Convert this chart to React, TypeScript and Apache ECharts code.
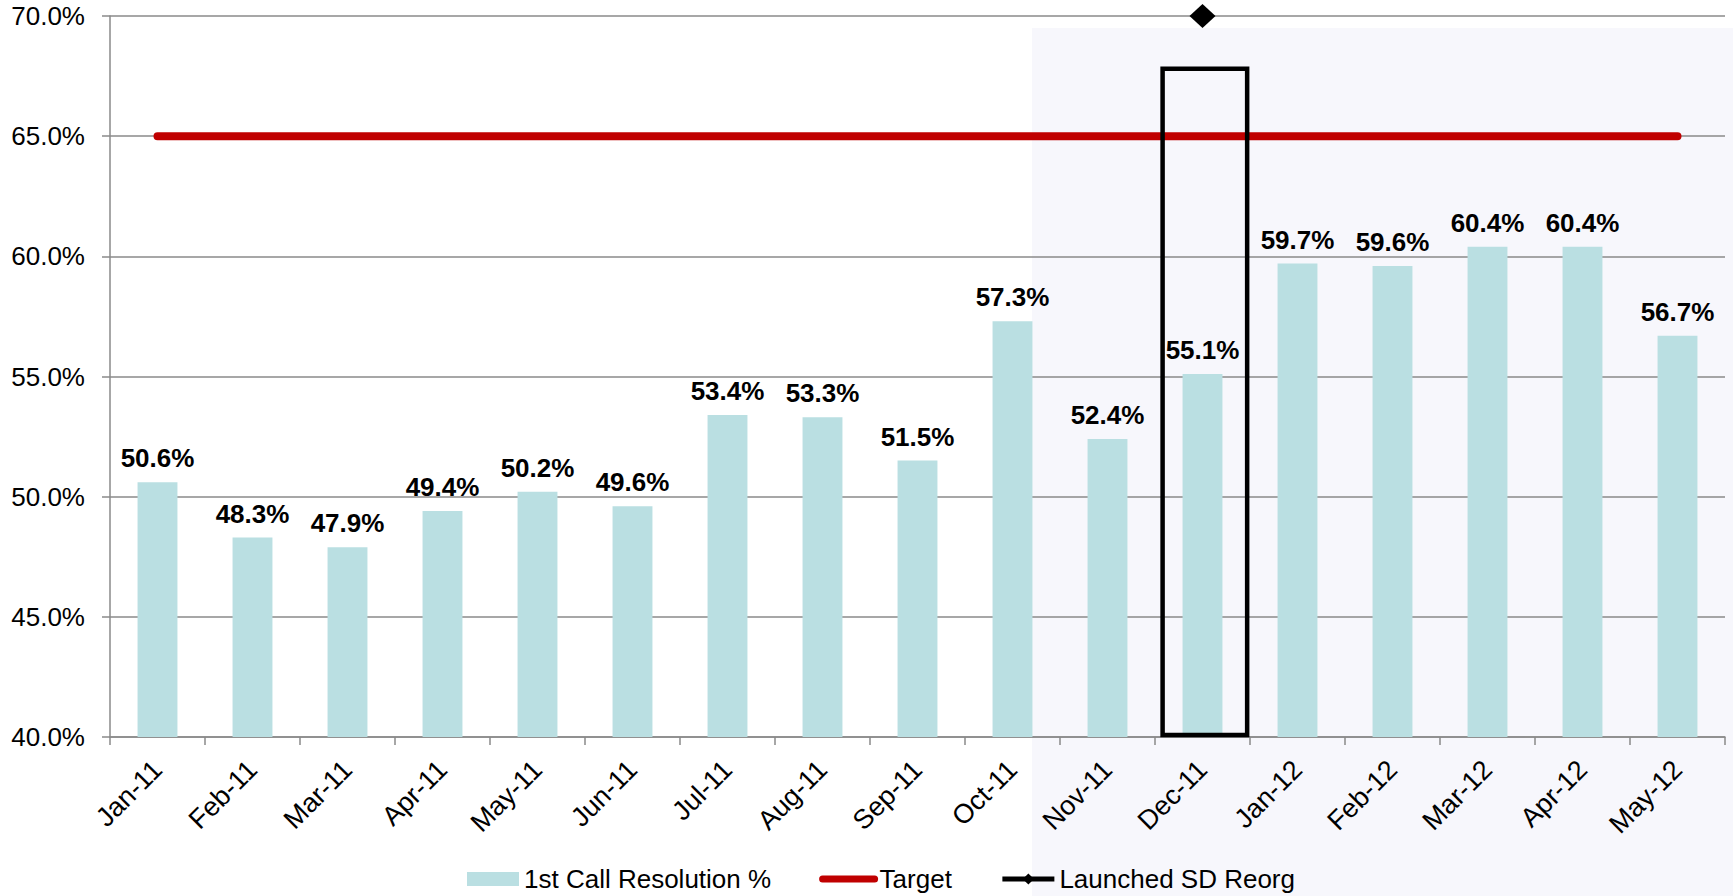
import React, { useEffect, useRef } from 'react';
import * as echarts from 'echarts';

const categories = ['Jan-11', 'Feb-11', 'Mar-11', 'Apr-11', 'May-11', 'Jun-11', 'Jul-11', 'Aug-11', 'Sep-11', 'Oct-11', 'Nov-11', 'Dec-11', 'Jan-12', 'Feb-12', 'Mar-12', 'Apr-12', 'May-12'];
const resolution = [50.6, 48.3, 47.9, 49.4, 50.2, 49.6, 53.4, 53.3, 51.5, 57.3, 52.4, 55.1, 59.7, 59.6, 60.4, 60.4, 56.7];
const target = [65, 65, 65, 65, 65, 65, 65, 65, 65, 65, 65, 65, 65, 65, 65, 65, 65];
const launched = [null, null, null, null, null, null, null, null, null, null, null, 70, null, null, null, null, null];
const yMin = 40;
const yMax = 70;
const yStep = 5;
const boxCategory = 'Dec-11';
const boxTopValue = 67.8;

const FONT = '"Liberation Sans", Arial, sans-serif';
const GRID_COLOR = '#8a8a8a';

export default function App() {
  const ref = useRef<HTMLDivElement>(null);
  useEffect(() => {
    document.body.style.margin = '0';
    const chart = echarts.init(ref.current!, null, { renderer: 'svg' });
    chart.setOption({
      animation: false,
      backgroundColor: '#ffffff',
      textStyle: { fontFamily: FONT },
      grid: { left: 110, right: 8, top: 16, bottom: 159 },
      legend: {
        left: 462,
        top: 861,
        itemWidth: 52,
        itemHeight: 14,
        itemGap: 48,
        textStyle: { fontFamily: FONT, fontSize: 26, color: '#000' },
        data: [
          { name: '1st Call Resolution %', icon: 'rect' },
          { name: 'Target', lineStyle: { width: 7, cap: 'round' }, itemStyle: { opacity: 0 } },
          { name: 'Launched SD Reorg', lineStyle: { width: 5 } },
        ],
      },
      xAxis: {
        type: 'category',
        data: categories,
        axisLine: { lineStyle: { color: GRID_COLOR, width: 1.5 } },
        axisTick: { show: true, length: 8, lineStyle: { color: GRID_COLOR, width: 1.5 } },
        axisLabel: { rotate: 45, margin: 28, fontSize: 27, color: '#000', fontFamily: FONT, interval: 0 },
      },
      yAxis: {
        type: 'value',
        min: yMin,
        max: yMax,
        interval: yStep,
        axisLine: { show: true, lineStyle: { color: GRID_COLOR, width: 1.5 } },
        axisTick: { show: true, length: 8, lineStyle: { color: GRID_COLOR, width: 1.5 } },
        splitLine: { lineStyle: { color: GRID_COLOR, width: 1.5 } },
        axisLabel: {
          margin: 25,
          fontSize: 26,
          color: '#000',
          fontFamily: FONT,
          formatter: (v: number) => v.toFixed(1) + '%',
        },
      },
      series: [
        {
          name: '1st Call Resolution %',
          type: 'bar',
          data: resolution,
          barWidth: '42%',
          itemStyle: { color: '#BADFE2' },
          label: {
            show: true,
            position: 'top',
            distance: 11,
            fontSize: 26,
            fontWeight: 'bold',
            color: '#000',
            fontFamily: FONT,
            formatter: (p: any) => Number(p.value).toFixed(1) + '%',
          },
        },
        {
          name: 'Target',
          type: 'line',
          data: target,
          symbol: 'none',
          lineStyle: { color: '#C00000', width: 8, cap: 'round' },
          itemStyle: { color: '#C00000' },
          z: 3,
        },
        {
          name: 'Launched SD Reorg',
          type: 'line',
          data: launched,
          symbol: 'diamond',
          symbolSize: [26, 24],
          clip: false,
          lineStyle: { color: '#000', width: 5 },
          itemStyle: { color: '#000' },
          z: 4,
        },
      ],
    });

    const x0 = chart.convertToPixel({ xAxisIndex: 0 }, categories[0]) as number;
    const x1 = chart.convertToPixel({ xAxisIndex: 0 }, categories[1]) as number;
    const band = x1 - x0;
    const cx = chart.convertToPixel({ xAxisIndex: 0 }, boxCategory) as number;
    const yTop = chart.convertToPixel({ yAxisIndex: 0 }, boxTopValue) as number;
    const yBot = chart.convertToPixel({ yAxisIndex: 0 }, yMin) as number;
    const boxW = band * 0.89;
    const boxCx = cx + band * 0.025;

    chart.setOption({
      graphic: [
        {
          type: 'rect',
          silent: true,
          z: -10,
          shape: { x: 1032, y: 28, width: 701, height: 868 },
          style: { fill: '#f7f7fc' },
        },
        {
          type: 'rect',
          silent: true,
          z: 10,
          shape: { x: boxCx - boxW / 2, y: yTop, width: boxW, height: yBot - yTop - 2 },
          style: { fill: 'none', stroke: '#000', lineWidth: 4.5 },
        },
      ],
    });

    return () => chart.dispose();
  }, []);
  return <div ref={ref} style={{ width: 1733, height: 896 }} />;
}
